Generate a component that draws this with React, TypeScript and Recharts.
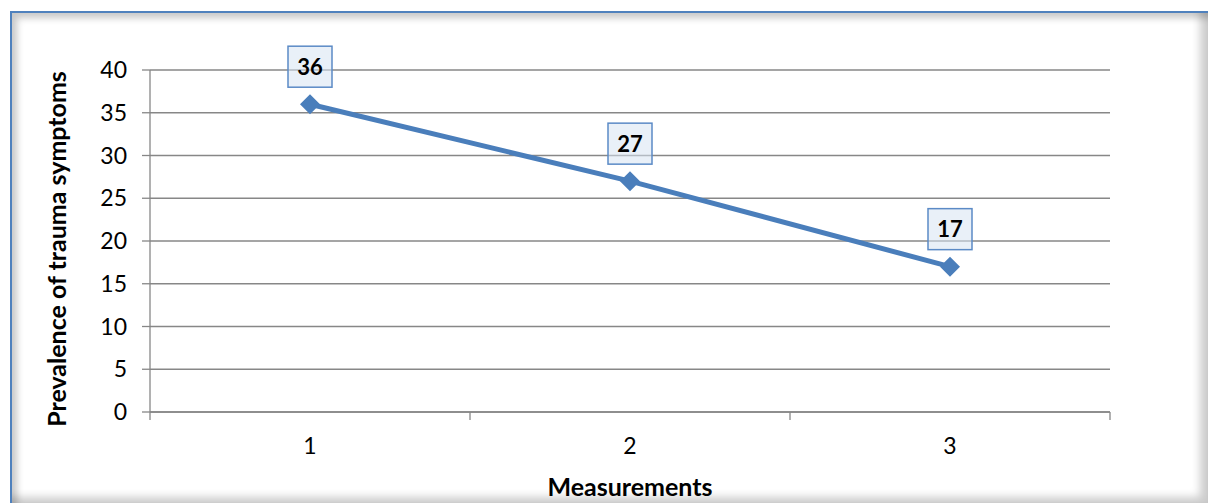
import { LineChart, Line, XAxis, YAxis, CartesianGrid, LabelList } from 'recharts'

const measurements = [1, 2, 3]
const prevalence = [36, 27, 17]
const yTicks = [0, 5, 10, 15, 20, 25, 30, 35, 40]
const edgeTicks = [0.5, 1.5, 2.5, 3.5]

const data = measurements.map((m, i) => ({ m, value: prevalence[i] }))

const blue = '#4a7ebb'
const grid = '#878787'
const font = 'Lato, "Open Sans", sans-serif'

function Diamond(props: any) {
  const { cx, cy } = props
  if (cx == null || cy == null) return null
  const r = 10
  return (
    <path
      d={`M${cx},${cy - r} L${cx + r},${cy} L${cx},${cy + r} L${cx - r},${cy} Z`}
      fill={blue}
    />
  )
}

function ValueBox(props: any) {
  const { x, y, value } = props
  const w = 44
  const h = 41
  return (
    <g>
      <rect
        x={x - w / 2}
        y={y - 17 - h}
        width={w}
        height={h}
        fill="rgba(215,227,242,0.55)"
        stroke="#5b8ac6"
        strokeWidth={1.5}
      />
      <text
        x={x}
        y={y - 17 - h / 2 + 8}
        textAnchor="middle"
        fontFamily={font}
        fontWeight="bold"
        fontSize={22}
        fill="#000"
      >
        {value}
      </text>
    </g>
  )
}

function YTitle(props: any) {
  const { viewBox } = props
  const cx = viewBox.x + 56
  const cy = viewBox.y + viewBox.height / 2 + 8
  return (
    <text
      x={cx}
      y={cy}
      transform={`rotate(-90, ${cx}, ${cy})`}
      textAnchor="middle"
      dominantBaseline="central"
      fontFamily={font}
      fontWeight="bold"
      fontSize={25}
      fill="#000"
    >
      Prevalence of trauma symptoms
    </text>
  )
}

function XTitle(props: any) {
  const { viewBox } = props
  return (
    <text
      x={viewBox.x + viewBox.width / 2}
      y={496}
      textAnchor="middle"
      fontFamily={font}
      fontWeight="bold"
      fontSize={25}
      fill="#000"
    >
      Measurements
    </text>
  )
}

// category boundaries get tick marks only, no text
const NoText = () => <g />

export default function App() {
  return (
    <div
      style={{
        position: 'absolute',
        left: 0,
        top: 0,
        width: 1208,
        height: 503,
        overflow: 'hidden',
        background: '#fff',
      }}
    >
      <div
        style={{
          position: 'absolute',
          left: 10,
          top: 11,
          width: 1198,
          height: 492,
          boxSizing: 'border-box',
          borderTop: '2px solid #4f81bd',
          borderLeft: '2px solid #4f81bd',
          boxShadow:
            'inset 5px 5px 7px rgba(0,0,0,0.22), inset -12px -10px 9px -4px rgba(0,0,0,0.2)',
        }}
      />
      <div style={{ position: 'absolute', left: 0, top: 0 }}>
        <LineChart
          width={1208}
          height={503}
          data={data}
          margin={{ top: 70, right: 98, left: 0, bottom: 0 }}
        >
          <CartesianGrid vertical={false} stroke={grid} strokeWidth={1.3} />
          <XAxis
            dataKey="m"
            type="number"
            domain={[0.5, 3.5]}
            ticks={edgeTicks}
            interval={0}
            tick={NoText}
            axisLine={{ stroke: grid, strokeWidth: 1.3 }}
            tickLine={{ stroke: grid, strokeWidth: 1.3 }}
            tickSize={8}
            height={1}
          />
          <XAxis
            xAxisId="labels"
            dataKey="m"
            type="number"
            domain={[0.5, 3.5]}
            ticks={measurements}
            tickLine={false}
            axisLine={false}
            tickSize={0}
            tickMargin={25}
            tick={{ fontFamily: font, fontSize: 23, fill: '#000' }}
            height={90}
            label={<XTitle />}
          />
          <YAxis
            domain={[0, 40]}
            ticks={yTicks}
            interval={0}
            width={150}
            tickSize={8}
            tickMargin={15}
            axisLine={{ stroke: grid, strokeWidth: 1.3 }}
            tickLine={{ stroke: grid, strokeWidth: 1.3 }}
            tick={{ fontFamily: font, fontSize: 23, fill: '#000' }}
            label={<YTitle />}
          />
          <Line
            dataKey="value"
            stroke={blue}
            strokeWidth={5}
            dot={<Diamond />}
            activeDot={false}
            isAnimationActive={false}
          >
            <LabelList dataKey="value" content={<ValueBox />} />
          </Line>
        </LineChart>
      </div>
    </div>
  )
}
